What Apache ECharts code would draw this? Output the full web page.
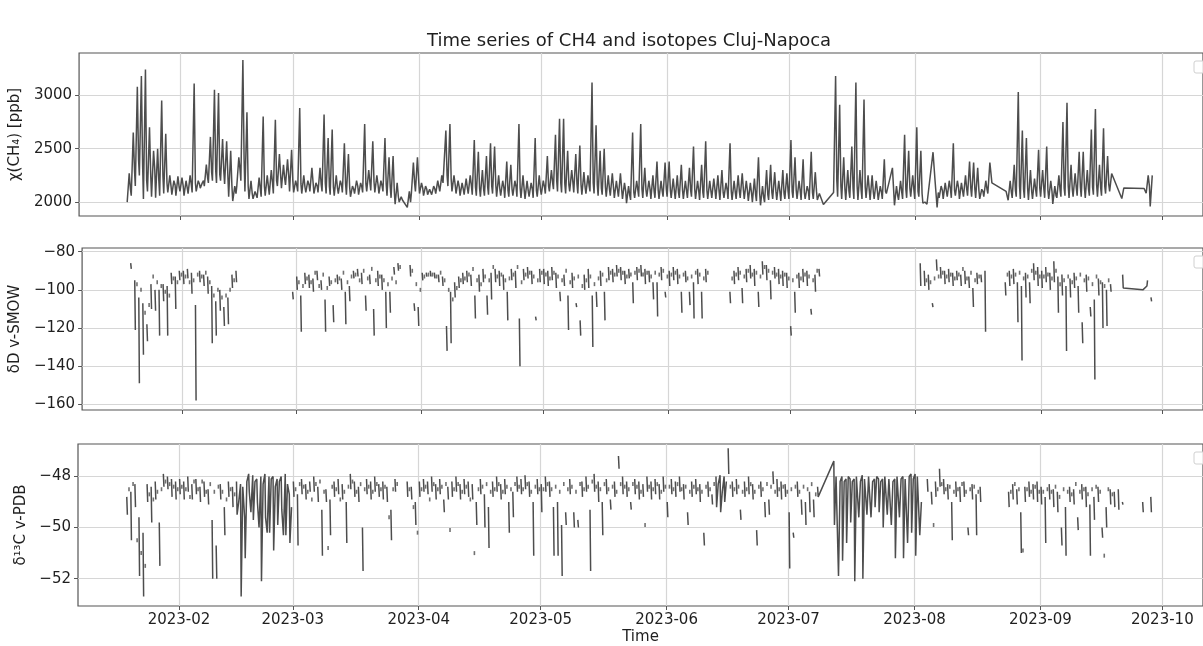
<!DOCTYPE html>
<html><head><meta charset="utf-8">
<script src="https://cdn.jsdelivr.net/npm/echarts@6.0.0/dist/echarts.min.js"></script>
<style>html,body{margin:0;padding:0;background:#fff}#c{width:1203px;height:646px}</style>
</head><body><div id="c"></div>
<script>
const chartTitle = 'Time series of CH4 and isotopes Cluj-Napoca';
const firstDay = '2023-01-19';
const monthTicks = ['2023-02-01','2023-03-01','2023-04-01','2023-05-01','2023-06-01','2023-07-01','2023-08-01','2023-09-01','2023-10-01'];
const ch4Ticks = [2000, 2500, 3000];
const dDTicks = [-160, -140, -120, -100, -80];
const d13Ticks = [-52, -50, -48];

// daily CH4 (ppb): low = start of day, peak = mid-day, eve = evening (one row per month)
const ch4Low = [
 2000,2060,2150,2250,2030,2100,2050,2040,2060,2080,2090,2070,2060,
 2100,2060,2080,2090,2100,2130,2150,2180,2200,2180,2200,2170,2050,2010,2150,2200,2100,2030,2030,2040,2050,2060,2070,2080,2150,2130,2160,2100,
 2090,2100,2080,2090,2100,2080,2090,2100,2080,2070,2060,2080,2090,2070,2050,2080,2070,2090,2100,2110,2090,2080,2100,2060,2040,1980,2000,null,1950,2080,2100,
 2080,2060,2070,2070,2080,2100,2180,2150,2100,2080,2060,2070,2080,2070,2060,2050,2060,2070,2080,2050,2060,2040,2050,2060,2050,2040,2030,2050,2040,2050,
 2070,2080,2100,2120,2100,2090,2080,2100,2090,2080,2070,2080,2100,2080,2060,2070,2050,2060,2040,2050,2030,1990,2020,2040,2050,2040,2050,2030,2040,2030,2050,
 2050,2040,2030,2040,2030,2040,2050,2030,2020,2040,2030,2040,2030,2020,2040,2030,2020,2030,2040,2030,2010,2000,2010,1970,2000,2020,2030,2020,2010,2030,
 2030,2040,2030,2020,2030,2020,2030,2020,2030,null,null,2090,2050,2030,2020,2040,2030,2020,2030,2040,2020,2030,2020,2030,2080,null,1970,2020,2030,2040,2050,
 2030,2050,1990,1980,null,2200,2040,2030,2050,2040,2060,2030,2050,2060,2050,2040,2030,2050,2080,2180,null,null,null,2017,2040,2050,2030,2040,2020,2030,2050,
 2050,2040,2030,1983,2040,2050,2060,2040,2050,2060,2050,2040,2060,2070,2050,2060,2080,2100,null,null,2033,null,null,null,null,null,2083,1960
];
const ch4Peak = [
 2270,2650,3080,3180,3240,2700,2480,2500,2950,2640,2250,2200,2240,
 2230,2200,2250,3110,2200,2180,2350,2610,3050,3020,2590,2570,2480,2150,2420,3330,2840,2200,2100,2230,2800,2250,2300,2770,2450,2350,2400,2490,
 2200,2880,2250,2200,2320,2180,2320,2820,2600,2680,2250,2200,2550,2450,2150,2200,2180,2730,2300,2570,2250,2200,2600,2420,2430,2180,2050,null,2100,2370,2420,
 2180,2150,2120,2150,2200,2250,2670,2730,2250,2200,2180,2220,2250,2580,2470,2300,2430,2550,2520,2250,2200,2380,2350,2200,2730,2250,2200,2180,2600,2250,
 2200,2430,2300,2630,2780,2780,2480,2300,2450,2530,2280,2250,3120,2720,2480,2500,2250,2270,2200,2270,2180,2150,2650,2200,2730,2320,2200,2250,2380,2200,2370,
 2380,2220,2250,2350,2200,2320,2520,2200,2350,2570,2200,2220,2250,2300,2180,2550,2200,2250,2270,2200,2180,2220,2420,2150,2300,2350,2280,2200,2300,2270,
 2580,2420,2200,2400,2150,2470,2280,2080,1977,null,null,3180,2910,2420,2300,2520,3120,2300,2960,2250,2250,2200,2150,2400,null,2320,2150,2200,2630,2480,2250,
 2700,2480,2000,null,2467,1950,2150,2180,2200,2550,2200,2180,2250,2380,2370,2320,2120,2200,2370,null,null,null,2100,2200,2350,3030,2670,2600,2300,2220,2490,
 2300,2520,2200,2150,2250,2750,2930,2350,2270,2470,2470,2300,2680,2870,2350,2690,2430,2267,null,null,2133,null,null,null,null,2127,2250,2250
];
const ch4Eve = [
 2120,2300,2400,2350,2200,2250,2300,2200,2250,2180,2150,2160,2140,
 2150,2130,2160,2180,2170,2200,2230,2280,2300,2260,2290,2250,2150,2080,2300,2400,2150,2080,2090,2120,2150,2140,2180,2200,2250,2220,2240,2200,
 2150,2170,2140,2160,2180,2150,2160,2180,2150,2140,2130,2160,2170,2140,2120,2150,2140,2170,2180,2190,2160,2150,2170,2140,2100,2050,2020,null,2000,2180,2200,
 2130,2120,2110,2120,2140,2180,2250,2220,2160,2140,2120,2130,2150,2140,2130,2120,2140,2150,2160,2120,2130,2110,2120,2140,2130,2110,2100,2120,2110,2120,
 2140,2150,2180,2200,2180,2170,2160,2180,2170,2160,2140,2150,2180,2160,2130,2140,2120,2130,2110,2120,2100,2060,2090,2110,2120,2110,2120,2100,2110,2100,2120,
 2110,2100,2090,2110,2100,2110,2120,2100,2090,2110,2100,2110,2100,2090,2110,2100,2090,2100,2110,2100,2080,2070,2080,2040,2070,2090,2100,2090,2080,2100,
 2100,2110,2100,2090,2100,2090,2100,2080,null,null,null,2200,2150,2120,2100,2130,2150,2110,2140,2110,2090,2100,2090,2100,null,null,2060,2090,2120,2130,2110,
 2100,2080,null,null,null,2090,2110,2100,2120,2110,2130,2100,2120,2130,2120,2110,2100,2120,null,null,null,null,null,2090,2110,2150,2120,2130,2100,2110,2130,
 2120,2110,2100,2060,2110,2130,2150,2120,2130,2140,2130,2120,2140,2160,2130,2150,2160,null,null,null,null,null,null,null,null,null,2150,null
];

// daily dD (permil): top/bottom of the day's main trace, extra = second reading
const dDTop = [
 -86,-95,-104,-107,-118,-97,-100,-100,-97,-98,-91,-93,-90,
 -90,-89,-91,-108,-90,-92,-93,-98,-106,-100,-109,-104,-92,-90,null,null,null,null,null,null,null,null,null,null,null,null,null,-101,
 -93,-103,-91,-92,-94,-90,-95,-105,-93,-108,-92,-94,-101,-98,-90,-89,-91,-103,-92,-110,-90,-92,-101,-101,-88,-86,null,null,-87,-107,-109,
 -91,-91,-90,-91,-92,-93,-119,-101,-96,-93,-91,-90,-92,-103,-92,-89,-103,-91,-89,-90,-92,-101,-89,-90,-115,-89,-88,-90,-114,-89,
 -89,-90,-88,-91,-101,-92,-103,-91,-107,-116,-92,-89,-103,-101,-90,-101,-88,-89,-87,-88,-90,-89,-96,-88,-87,-89,-90,-96,-96,-88,-101,
 -90,-88,-89,-101,-90,-101,-96,-89,-101,-89,null,null,null,null,null,-101,-90,-88,-99,-89,-87,-89,-101,-85,-87,-95,-88,-89,-90,-91,
 -119,-101,-91,-89,-90,-110,-92,-89,null,null,null,null,null,null,null,null,null,null,null,null,null,null,null,null,null,null,null,null,null,null,null,
 null,-86,-90,-92,-107,-84,-88,-90,-89,-91,-90,-92,-90,-93,-99,-91,-92,-90,null,null,null,null,-96,-90,-89,-96,-98,-91,-96,-86,-88,
 -90,-88,-91,-85,-93,-92,-98,-94,-91,-98,-117,-92,-109,-105,-94,-96,-100,-97,null,null,-92,null,null,null,null,-100,-98,-104
];
const dDBottom = [
 -89,-121,-149,-134,-127,-110,-111,-124,-106,-124,-97,-110,-95,
 -97,-94,-102,-158,-96,-98,-102,-128,-124,-111,-119,-118,-99,-96,null,null,null,null,null,null,null,null,null,null,null,null,null,-105,
 -100,-122,-97,-99,-101,-95,-100,-122,-98,-117,-97,-100,-118,-106,-94,-93,-97,-111,-97,-124,-98,-100,-120,-112,-92,-90,null,null,-93,-111,-119,
 -95,-93,-93,-94,-96,-98,-132,-128,-104,-99,-97,-96,-98,-115,-101,-96,-113,-105,-96,-98,-100,-116,-95,-99,-140,-95,-94,-97,-116,-96,
 -97,-98,-95,-99,-106,-98,-121,-99,-109,-124,-100,-99,-130,-109,-98,-116,-95,-96,-93,-95,-97,-94,-107,-95,-93,-97,-96,-105,-114,-95,-104,
 -98,-95,-97,-112,-96,-108,-115,-97,-115,-96,null,null,null,null,null,-107,-97,-95,-107,-96,-94,-98,-109,-92,-95,-105,-94,-97,-98,-99,
 -124,-112,-99,-96,-98,-113,-101,-93,null,null,null,null,null,null,null,null,null,null,null,null,null,null,null,null,null,null,null,null,null,null,null,
 null,-98,-98,-100,-109,-90,-94,-97,-96,-98,-95,-98,-97,-99,-109,-97,-96,-122,null,null,null,null,-103,-98,-97,-117,-137,-104,-107,-95,-98,
 -99,-96,-100,-96,-112,-103,-132,-104,-99,-112,-128,-101,-114,-147,-103,-120,-119,-101,null,null,-99,null,null,null,null,-101,-95,-106
];
const dDExtra = [
 null,-97,-100,-112,-108,-93,-96,-98,-101,-103,-94,-96,-92,
 -93,-96,-95,-92,-93,-91,-96,-103,-100,-104,-103,-100,-95,null,null,null,null,null,null,null,null,null,null,null,null,null,null,null,
 -96,-98,-94,-96,-91,-98,-92,-99,-96,-95,-94,-91,-96,-93,-92,-95,-90,-94,-89,-95,-93,-95,-97,-94,-96,-88,null,null,-90,-97,-100,
 -93,-92,-92,-93,-91,-95,-100,-105,-99,-95,-94,-92,-89,-95,-97,-93,-95,-88,-93,-92,-95,-94,-92,-88,-96,-92,-91,-93,-95,-91,
 -92,-94,-91,-93,-95,-90,-96,-94,-93,-98,-95,-93,-97,-94,-92,-95,-91,-92,-90,-91,-93,-92,-91,-90,-92,-91,-93,-91,-92,-90,-93,
 -92,-91,-93,-92,-94,-93,-91,-92,-94,-91,null,null,null,null,null,-94,-92,-91,-93,-90,-92,-91,-93,-88,-90,-91,-92,-93,-92,-94,
 -95,-93,-94,-92,-93,-95,-90,null,null,null,null,null,null,null,null,null,null,null,null,null,null,null,null,null,null,null,null,null,null,null,null,
 null,null,-95,-96,-94,-93,-91,-93,-92,-94,-92,-89,-94,-91,-95,-93,null,null,null,null,null,null,-92,-93,-92,-91,-94,-93,-90,-91,-93,
 -93,-92,-94,-90,-97,-95,-93,-96,-94,-92,-95,-94,-97,-93,-96,-98,-95,null,null,null,null,null,null,null,null,null,null,null
];
const dDContinuous = [['2023-09-21', '2023-09-27']];

// daily d13C (permil)
const d13Top = [
 -48.8,-48.6,-48.3,-49.6,-50.2,-48.3,-48.4,-48.2,-49.8,-47.9,-48.0,-48.1,-48.2,
 -48.1,-48.2,-48.0,-48.3,-48.1,-48.4,-48.2,-48.5,-49.7,-50.7,-48.3,-49.2,-48.2,-48.4,-48.2,-48.3,-49.6,-47.9,-47.95,-48.1,-48.0,-47.9,-48.0,-48.0,-48.1,-48.0,-47.9,-48.7,
 -48.2,-48.7,-48.1,-48.3,-48.2,-48.0,-48.4,-49.3,-48.5,-48.9,-48.2,-48.1,-48.3,-49.0,-47.9,-48.2,-48.4,-50.0,-48.1,-48.2,-48.0,-48.3,-48.2,-48.4,-49.3,-48.1,null,null,-48.2,-48.4,-49.0,
 -48.2,-48.1,-48.2,-48.0,-48.3,-48.1,-48.9,-48.4,-48.2,-48.0,-48.3,-48.1,-48.2,-48.3,-49.0,-48.1,-48.7,-49.2,-48.2,-48.0,-48.3,-48.1,-49.0,-48.6,-48.0,-48.1,-47.95,-48.2,-49.0,-48.1,
 -48.3,-48.0,-48.2,-49.2,-49.0,-49.9,-49.4,-48.1,-49.4,-49.7,-48.2,-48.0,-49.3,-47.9,-48.2,-49.0,-48.1,-48.9,-48.2,-47.2,-48.0,-48.2,-49.0,-48.1,-48.2,-48.3,-48.0,-48.2,-48.1,-48.3,-48.0,
 -49.0,-48.1,-48.2,-48.0,-48.3,-49.4,-48.2,-48.1,-48.3,-50.2,-48.2,-48.7,-48.0,-47.95,-48.0,-46.9,-48.2,-48.1,-49.3,-48.2,-48.0,-48.3,-50.1,-48.2,-49.0,-48.9,-47.8,-48.1,-48.2,-48.3,
 -49.4,-50.2,-48.2,-48.9,-49.0,-48.6,-48.9,-48.4,null,null,null,-47.4,-48.0,-48.0,-48.1,-48.1,-48.1,-48.0,-47.95,-48.1,-48.0,-48.1,-48.1,-48.1,-48.0,-48.1,-48.1,-48.0,-48.0,-48.1,-47.9,
 -47.9,-48.0,null,-48.1,-48.6,-48.2,-47.7,-48.1,-48.3,-49.0,-48.2,-48.4,-48.2,-50.0,-48.3,-48.7,-48.4,null,null,null,null,null,null,-48.6,-48.3,-48.5,-49.4,-48.4,-48.2,-48.3,-48.2,
 -48.4,-48.8,-48.3,-48.5,-48.6,-50.0,-49.2,-48.4,-48.5,-49.6,-48.3,-48.4,-49.1,-48.8,-48.4,-50.0,-49.2,-48.5,-48.6,-48.5,-49.0,null,null,null,null,-49.0,null,-48.8
];
const d13Bottom = [
 -49.5,-50.5,-49.2,-51.9,-52.7,-49.0,-49.8,-48.9,-51.5,-48.4,-48.5,-48.8,-48.9,
 -48.7,-48.9,-48.6,-48.9,-48.7,-49.0,-48.8,-49.1,-52.0,-52.0,-48.9,-50.3,-48.8,-49.2,-49.5,-52.7,-51.2,-48.6,-49.7,-49.0,-52.1,-49.6,-50.2,-50.9,-49.9,-49.3,-50.3,-50.6,
 -48.8,-50.7,-48.7,-48.9,-48.6,-48.6,-49.0,-51.1,-49.0,-50.3,-48.8,-48.7,-48.9,-50.6,-48.5,-48.8,-49.0,-51.7,-48.7,-48.9,-48.6,-48.8,-48.9,-49.0,-50.5,-48.6,null,null,-48.8,-48.9,-49.9,
 -48.8,-48.6,-48.7,-48.6,-48.9,-48.7,-49.4,-48.9,-48.8,-48.6,-48.9,-48.7,-48.8,-48.9,-49.9,-48.7,-50.0,-50.8,-48.8,-48.6,-48.9,-48.7,-50.2,-49.6,-48.6,-48.7,-48.5,-48.8,-51.1,-48.7,
 -49.4,-48.6,-48.8,-51.1,-51.1,-51.9,-49.9,-48.7,-50.0,-50.0,-48.8,-48.6,-51.7,-48.6,-49.0,-50.3,-48.7,-49.3,-48.8,-47.7,-48.7,-48.8,-49.3,-48.7,-48.9,-48.8,-48.6,-48.9,-48.7,-48.9,-48.6,
 -49.6,-48.7,-48.8,-48.6,-48.9,-49.9,-48.8,-48.7,-49.0,-50.7,-48.8,-49.1,-49.2,-49.4,-49.0,-47.9,-48.8,-48.7,-49.7,-48.8,-48.7,-48.9,-50.7,-48.8,-49.6,-49.5,-48.3,-48.8,-48.9,-48.8,
 -51.6,-50.4,-48.8,-49.5,-49.9,-49.4,-49.6,-48.8,null,null,null,-49.9,-51.9,-51.3,-50.6,-49.8,-52.1,-49.6,-52.0,-49.5,-49.6,-49.2,-49.4,-50.0,-49.5,-49.9,-51.2,-49.6,-51.2,-50.6,-50.2,
 -51.1,-50.3,null,-48.6,-49.1,-48.8,-48.4,-48.7,-48.9,-50.5,-48.8,-49.0,-48.8,-50.3,-48.9,-50.3,-49.0,null,null,null,null,null,null,-49.2,-48.9,-49.1,-51.0,-49.0,-48.8,-48.9,-49.0,
 -49.1,-50.6,-48.9,-49.2,-49.4,-50.7,-51.1,-49.0,-49.1,-50.1,-48.9,-49.2,-51.1,-49.7,-49.0,-50.4,-50.0,-49.1,-49.2,-49.3,-49.1,null,null,null,null,-49.4,null,-49.4
];
const d13Extra = [
 -48.5,-48.3,-50.5,-51.0,-51.5,-48.7,-48.9,-48.6,-48.5,-48.2,-48.3,-48.4,-48.5,
 -48.4,-48.5,-48.8,-48.2,-48.5,-48.2,-48.6,-48.3,-48.6,-48.4,-48.6,-48.9,-48.5,-48.7,-49.0,-48.4,-48.2,-49.4,-48.2,-50.0,-48.3,-50.2,-48.1,-48.4,-48.2,-50.3,-48.3,-49.2,
 -48.5,-48.3,-48.4,-48.6,-48.9,-48.3,-48.2,-48.6,-50.8,-48.4,-48.5,-48.9,-48.6,-48.4,-48.2,-48.6,-48.3,-48.5,-48.4,-48.6,-48.3,-48.5,-48.4,-49.6,-48.5,-48.3,null,null,-48.5,-49.2,-50.2,
 -48.5,-48.4,-48.9,-48.3,-48.5,-48.4,-48.3,-50.1,-48.5,-48.3,-48.6,-48.4,-48.9,-51.0,-48.5,-48.4,-48.3,-48.6,-48.5,-48.3,-48.6,-48.4,-48.5,-48.3,-48.4,-48.5,-48.3,-48.6,-48.4,-48.5,
 -48.5,-48.3,-48.5,-48.4,-48.6,-48.3,-48.5,-48.4,-48.6,-48.3,-48.5,-48.4,-48.2,-48.4,-48.5,-48.3,-48.5,-48.4,-48.6,-48.3,-48.4,-48.5,-48.3,-48.4,-48.6,-49.9,-48.4,-48.5,-48.3,-48.6,-48.4,
 -48.4,-48.5,-48.3,-48.5,-48.4,-48.6,-48.4,-48.5,-48.6,-48.4,-48.5,-48.3,-48.3,-48.6,-48.2,-48.4,-48.5,-48.4,-48.6,-48.5,-48.3,-48.6,-48.4,-48.5,-48.3,-48.4,-48.6,-48.5,-48.4,-48.6,
 -48.5,-48.4,-48.6,-48.4,-48.5,-48.3,-48.7,null,null,null,null,-48.0,-48.2,-48.2,-48.0,-48.2,-48.0,-48.2,-48.1,-48.0,-48.2,-48.0,-48.2,-48.0,-48.1,-48.2,-48.0,-48.1,-48.1,-48.0,-48.1,
 -48.0,-49.0,null,null,-49.9,-48.5,-48.3,-48.5,-48.4,-48.6,-48.5,-48.3,-48.6,-48.5,-48.4,-48.6,null,null,null,null,null,null,null,-48.6,-48.3,-48.5,-50.9,-48.5,-48.6,-48.4,-48.6,
 -48.6,-48.5,-48.6,-48.4,-48.8,-48.5,-48.6,-48.7,-48.3,-48.6,-48.5,-48.7,-48.5,-48.4,-48.6,-51.1,-48.5,-48.7,null,null,null,null,null,null,null,null,null,null
];
const d13Continuous = [['2023-02-15', '2023-02-28'], ['2023-06-13', '2023-06-15'], ['2023-07-08', '2023-08-02']];

// ---------- build ----------
const DAY = 86400000;
const utc = s => Date.parse(s + 'T00:00:00Z');
const t0 = utc(firstDay);
const dayMs = i => t0 + i * DAY;
const tickMs = monthTicks.map(utc);
const xMin = Date.parse('2023-01-07T03:36:00Z');
const xMax = Date.parse('2023-10-11T00:00:00Z');

function rangeIndex(ranges, i) {
  const t = dayMs(i);
  for (let k = 0; k < ranges.length; k++) {
    if (t >= utc(ranges[k][0]) && t <= utc(ranges[k][1])) return k;
  }
  return -1;
}
function buildIso(top, bot, extra, ranges) {
  const line = [], dots = [];
  for (let i = 0; i < top.length; i++) {
    const t = dayMs(i);
    const r = rangeIndex(ranges, i);
    if (top[i] != null) {
      line.push([t + 0.15 * DAY, top[i]]);
      line.push([t + 0.3 * DAY, bot[i]]);
      if (extra[i] != null) {
        if (r >= 0) line.push([t + 0.7 * DAY, extra[i]]);
        else dots.push([t + 0.7 * DAY, extra[i]]);
      }
    }
    if (!(r >= 0 && rangeIndex(ranges, i + 1) === r)) line.push([t + 0.85 * DAY, '-']);
  }
  return { line, dots };
}
const ch4Line = [];
for (let i = 0; i < ch4Low.length; i++) {
  const t = dayMs(i);
  if (ch4Low[i] != null) ch4Line.push([t, ch4Low[i]]);
  if (ch4Peak[i] != null) ch4Line.push([t + 0.5 * DAY, ch4Peak[i]]);
  if (ch4Eve[i] != null) ch4Line.push([t + 0.8 * DAY, ch4Eve[i]]);
}
const dD = buildIso(dDTop, dDBottom, dDExtra, dDContinuous);
const d13 = buildIso(d13Top, d13Bottom, d13Extra, d13Continuous);

const FONT = 'DejaVu Sans';
const INK = '#1f1f1f';
const LINE = '#4d4d4d';
const FRAME = '#555555';
const GRIDC = '#d6d6d6';
const minus = v => String(v).replace('-', '\u2212');
const ym = v => { const d = new Date(v); return d.getUTCFullYear() + '-' + String(d.getUTCMonth() + 1).padStart(2, '0'); };

const tops = [53, 248, 444], heights = [163, 162, 163];
const grids = tops.map((t, k) => ({ left: 78, width: 1136, top: t, height: heights[k], show: true, borderColor: FRAME, borderWidth: 1.2, backgroundColor: 'transparent' }));

const xAxes = [0, 1, 2].map(k => ({
  type: 'value', gridIndex: k, min: xMin, max: xMax,
  axisLine: { show: false },
  axisTick: { show: true, customValues: tickMs, length: 4, lineStyle: { color: FRAME, width: 1 } },
  axisLabel: { show: k === 2, customValues: tickMs, formatter: ym, fontFamily: FONT, fontSize: 15, color: INK, margin: 7 },
  splitLine: { show: true, lineStyle: { color: GRIDC, width: 1.2 } },
  name: k === 2 ? 'Time' : '', nameLocation: 'middle', nameGap: 24,
  nameTextStyle: { fontFamily: FONT, fontSize: 15, color: INK }
}));
function yAx(k, min, max, ticks, name, gap) {
  return {
    type: 'value', gridIndex: k, min, max,
    axisLine: { show: false },
    axisTick: { show: true, customValues: ticks, length: 4, lineStyle: { color: FRAME, width: 1 } },
    axisLabel: { customValues: ticks, formatter: minus, fontFamily: FONT, fontSize: 15, color: INK, margin: 7 },
    splitLine: { show: true, lineStyle: { color: GRIDC, width: 1.2 } },
    name, nameLocation: 'middle', nameGap: gap, nameRotate: 90,
    nameTextStyle: { fontFamily: FONT, fontSize: 15, color: INK }
  };
}
const yAxes = [
  yAx(0, 1870, 3395, ch4Ticks, 'χ(CH₄) [ppb]', 46),
  yAx(1, -163, -78.05, dDTicks, 'δD v-SMOW', 53),
  yAx(2, -53.07, -46.73, d13Ticks, 'δ¹³C v-PDB', 42)
];
const lineSeries = (k, data) => ({ type: 'line', xAxisIndex: k, yAxisIndex: k, data, showSymbol: false, symbol: 'none', connectNulls: false, lineStyle: { color: LINE, width: 1.5 }, silent: true, animation: false });
const dotSeries = (k, data) => ({ type: 'scatter', xAxisIndex: k, yAxisIndex: k, data, symbol: 'rect', symbolSize: [1.6, 4], itemStyle: { color: LINE }, silent: true, animation: false });

const legendBox = y => ({ type: 'rect', shape: { x: 1194, y, width: 14, height: 12, r: 2 }, style: { fill: 'rgba(255,255,255,0.8)', stroke: '#d0d0d0', lineWidth: 1 }, z: 100 });

const chart = echarts.init(document.getElementById('c'), null, { renderer: 'canvas' });
chart.setOption({
  animation: false,
  backgroundColor: '#ffffff',
  title: { text: chartTitle, left: 422, top: 27, textStyle: { fontFamily: FONT, fontSize: 18, fontWeight: 'normal', color: INK } },
  grid: grids,
  xAxis: xAxes,
  yAxis: yAxes,
  series: [
    lineSeries(0, ch4Line),
    lineSeries(1, dD.line), dotSeries(1, dD.dots),
    lineSeries(2, d13.line), dotSeries(2, d13.dots)
  ],
  graphic: [legendBox(61), legendBox(256), legendBox(452)]
});
</script>
</body></html>
